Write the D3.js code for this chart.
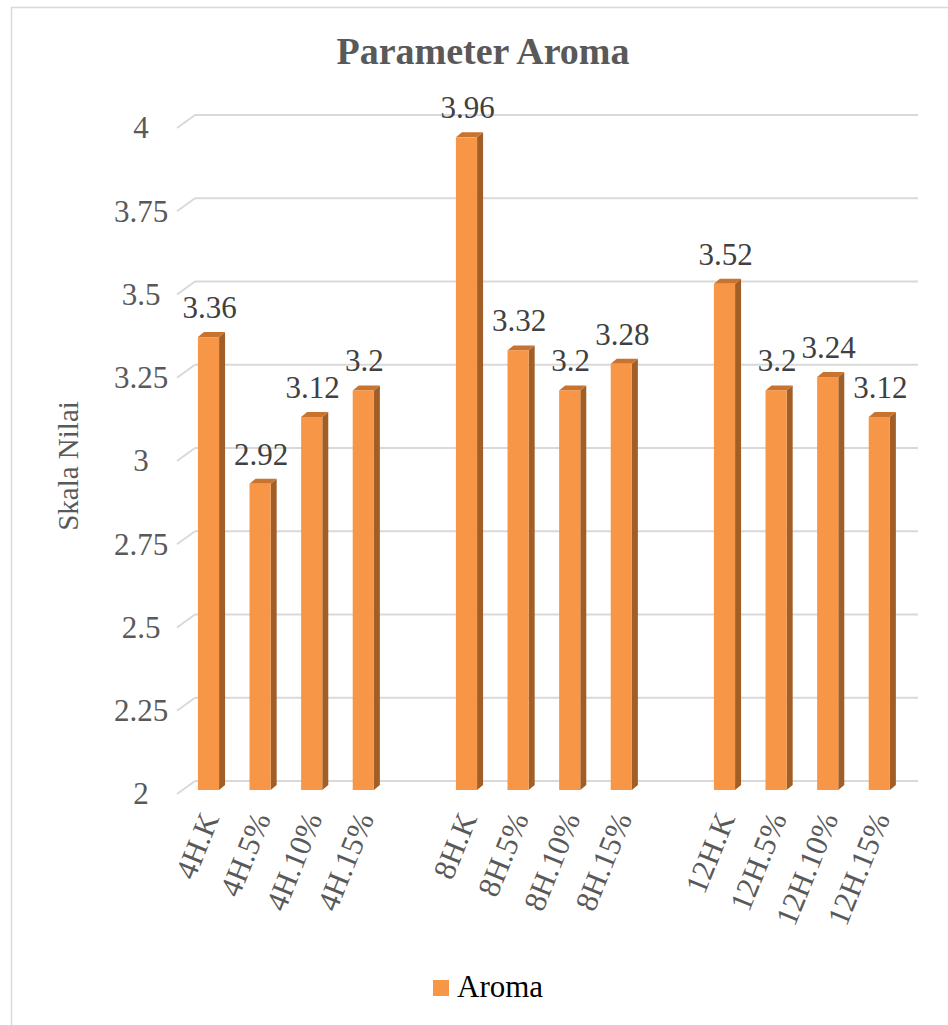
<!DOCTYPE html>
<html>
<head>
<meta charset="utf-8">
<script src="https://cdn.jsdelivr.net/npm/d3@7"></script>
<style>
  html, body { margin: 0; padding: 0; background: #fff; }
  svg { display: block; }
  text { font-family: "Liberation Serif", "Times New Roman", serif; }
</style>
</head>
<body>
<svg id="chart" width="948" height="1025"></svg>
<script>
// Category labels (blank entries separate the 4H / 8H / 12H groups)
const categories = ["4H.K", "4H.5%", "4H.10%", "4H.15%", "",
                    "8H.K", "8H.5%", "8H.10%", "8H.15%", " ",
                    "12H.K", "12H.5%", "12H.10%", "12H.15%"];
// Aroma scores per category (null = gap)
const aroma = [3.36, 2.92, 3.12, 3.2, null,
               3.96, 3.32, 3.2, 3.28, null,
               3.52, 3.2, 3.24, 3.12];
const yTicks = [2, 2.25, 2.5, 2.75, 3, 3.25, 3.5, 3.75, 4];
const seriesName = "Aroma";
const chartTitle = "Parameter Aroma";
const yTitle = "Skala Nilai";

const svg = d3.select("#chart");

const colFront = "#F79646", colSide = "#A15E26", colTop = "#C8742F";
const gridCol = "#D9D9D9";
const serif = "'Liberation Serif', 'Times New Roman', serif";

// outer frame
svg.append("rect")
  .attr("x", 11.5).attr("y", 7.5).attr("width", 960).attr("height", 1040)
  .attr("fill", "none").attr("stroke", gridCol).attr("stroke-width", 1.5);

const idx = d3.range(categories.length);
const x = d3.scaleBand().domain(idx).range([182.7, 905.1])
  .paddingInner(0.59).paddingOuter(0.295);
const y = d3.scaleLinear().domain([2, 4]).range([790, 124]);

// 3D offsets
const wallDX = 18, wallDY = -13, wallFrontDY = 4;
const barDX = 6, barDY = -5;
const wallRight = 918;

// gridlines on back wall with diagonal side segments
const grid = svg.append("g");
yTicks.forEach(t => {
  const yf = y(t) + wallFrontDY;
  const yb = yf + wallDY;
  grid.append("line")
    .attr("x1", 177).attr("y1", yf).attr("x2", 177 + wallDX).attr("y2", yb)
    .attr("stroke", gridCol).attr("stroke-width", 2);
  grid.append("line")
    .attr("x1", 177 + wallDX).attr("y1", yb).attr("x2", wallRight).attr("y2", yb)
    .attr("stroke", gridCol).attr("stroke-width", 2);
});

// y axis tick labels (centred in their column)
const yAxis = d3.axisLeft(y).tickValues(yTicks).tickSize(0).tickPadding(0)
  .tickFormat(d => d3.format("")(d));
const yg = svg.append("g").attr("transform", "translate(141,4)").call(yAxis);
yg.select(".domain").remove();
yg.selectAll("text")
  .attr("fill", "#595959").style("font-size", "31px")
  .style("font-family", serif)
  .attr("text-anchor", "middle");

// bars
const data = idx.filter(i => aroma[i] != null).map(i => ({ i, v: aroma[i] }));
const bars = svg.append("g");
const bw = x.bandwidth();
const y0 = y(2);
data.forEach(d => {
  const bx = x(d.i), yt = y(d.v);
  // side face
  bars.append("polygon")
    .attr("points", [[bx + bw, yt], [bx + bw + barDX, yt + barDY],
                     [bx + bw + barDX, y0 + barDY], [bx + bw, y0]].map(p => p.join(",")).join(" "))
    .attr("fill", colSide);
  // top face
  bars.append("polygon")
    .attr("points", [[bx, yt], [bx + barDX, yt + barDY],
                     [bx + bw + barDX, yt + barDY], [bx + bw, yt]].map(p => p.join(",")).join(" "))
    .attr("fill", colTop);
  // front face
  bars.append("rect")
    .attr("x", bx).attr("y", yt).attr("width", bw).attr("height", y0 - yt)
    .attr("fill", colFront);
});

// value labels
svg.append("g").selectAll("text").data(data).join("text")
  .attr("x", d => x(d.i) + bw / 2 + 1)
  .attr("y", d => y(d.v) - 19)
  .attr("text-anchor", "middle")
  .attr("fill", "#404040").style("font-size", "31px")
  .text(d => d.v);

// x axis category labels
const xAxis = d3.axisBottom(x).tickSize(0).tickFormat(i => categories[i]);
const xg = svg.append("g").attr("transform", "translate(0,800)").call(xAxis);
xg.select(".domain").remove();
xg.selectAll("text")
  .attr("fill", "#595959").style("font-size", "31px")
  .style("font-family", serif)
  .attr("text-anchor", "end")
  .attr("dy", "0.35em").attr("y", 0)
  .attr("transform", "translate(1,14) rotate(-68)");

// title
svg.append("text")
  .attr("x", 483).attr("y", 64)
  .attr("text-anchor", "middle")
  .attr("fill", "#595959").style("font-size", "38px").style("font-weight", "bold")
  .text(chartTitle);

// y axis title
svg.append("text")
  .attr("transform", "translate(78,466) rotate(-90)")
  .attr("text-anchor", "middle")
  .attr("fill", "#595959").style("font-size", "29px")
  .text(yTitle);

// legend
const lg = svg.append("g").attr("transform", "translate(433,980)");
lg.append("rect").attr("width", 16).attr("height", 16).attr("fill", colFront);
lg.append("text").attr("x", 24).attr("y", 17)
  .attr("fill", "#000").style("font-size", "31px").text(seriesName);
</script>
</body>
</html>
